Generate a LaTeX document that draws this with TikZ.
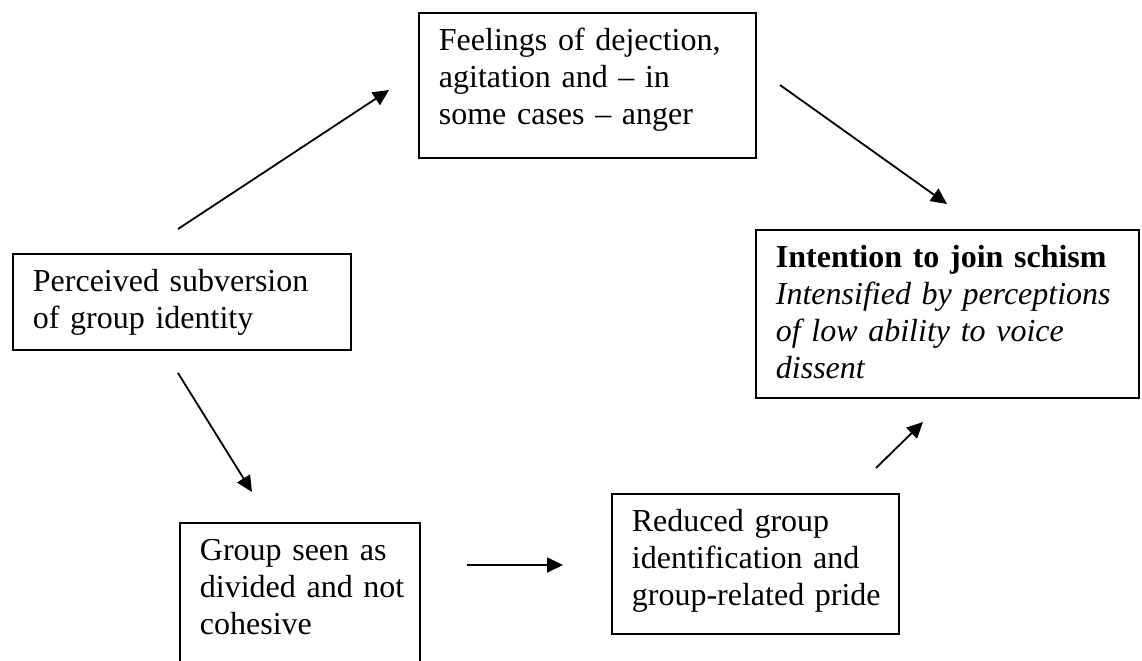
\documentclass[tikz,border=0pt]{standalone}
\usepackage{fontspec}
\setmainfont{Liberation Serif}
\usetikzlibrary{arrows.meta}

\tikzset{
	box/.style={draw, line width=0.9pt, anchor=north west, align=left, inner xsep=10pt, inner ysep=0pt, text height=19pt, font=\fontsize{16pt}{18.5pt}\selectfont},
	flow/.style={-{Triangle[length=8pt, width=7.5pt]}, line width=0.9pt}
}

\begin{document}
\begin{tikzpicture}[x=0.5pt, y=-0.5pt]
		
		% Page frame (the lower left box runs off the page)
		\clip (0,0) rectangle (1142,660);
		
		% Boxes
		\node[box, text width=148.5pt, text depth=53.5pt] (Feel) at (418,12) {Feelings of dejection,\\agitation and -- in\\some cases -- anger};
		
		\node[box, text width=149pt, text depth=29pt] (Subv) at (12,253) {Perceived subversion\\of group identity};
		
		\node[box, text width=171.5pt, text depth=65pt] (Schism) at (755,229) {\textbf{Intention to join schism}\\\itshape Intensified by perceptions\\of low ability to voice\\dissent};
		
		\node[box, text width=100pt, text depth=61pt] (Divid) at (179,522) {Group seen as\\\mbox{divided and not}\\cohesive};
		
		\node[box, text width=123.5pt, text depth=51pt] (Pride) at (611,493) {Reduced group\\identification and\\\mbox{group-related pride}};
		
		% Free ends of the arrows
		\coordinate (S1) at (178,229);   % subversion -> feelings
		\coordinate (E1) at (389,90);
		\coordinate (S2) at (780,85);    % feelings -> schism
		\coordinate (E2) at (947,204);
		\coordinate (S3) at (178,373);   % subversion -> divided
		\coordinate (E3) at (252,492);
		\coordinate (S4) at (467,565);   % divided -> pride
		\coordinate (E4) at (563,565);
		\coordinate (S5) at (876,468);   % pride -> schism
		\coordinate (E5) at (923,422);
		
		% Arrows
		\draw[flow] (S1) -- (E1);
		\draw[flow] (S2) -- (E2);
		\draw[flow] (S3) -- (E3);
		\draw[flow] (S4) -- (E4);
		\draw[flow] (S5) -- (E5);
		
	\end{tikzpicture}
\end{document}
